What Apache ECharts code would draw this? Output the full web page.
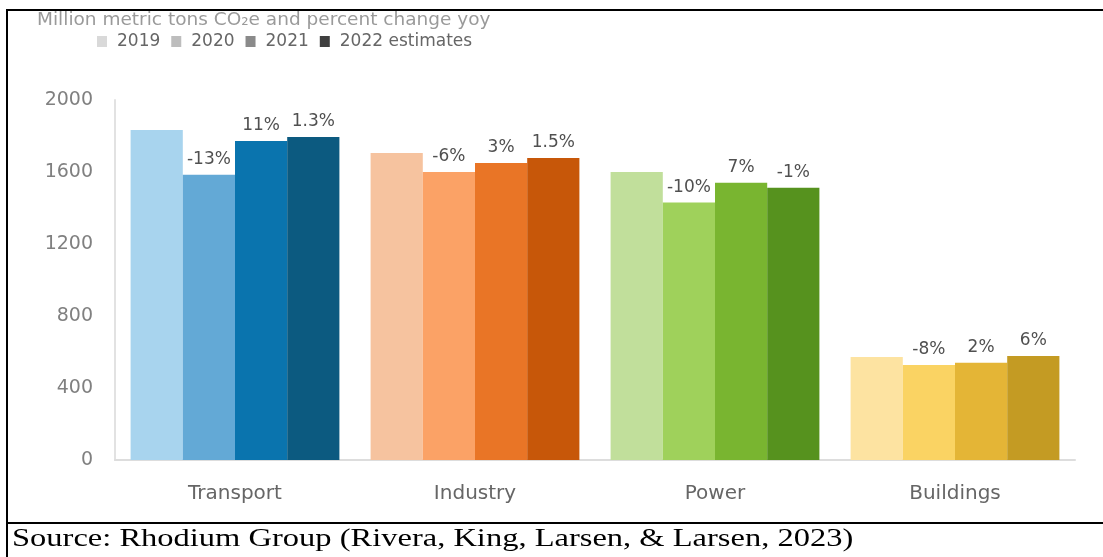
<!DOCTYPE html>
<html>
<head>
<meta charset="utf-8">
<script src="https://cdn.jsdelivr.net/npm/echarts@6/dist/echarts.min.js"></script>
<style>
  html, body { margin: 0; padding: 0; background: #fff; }
  #chart { width: 1103px; height: 557px; }
</style>
</head>
<body>
<div id="chart"></div>
<script>
// sectors and yearly emissions (million metric tons CO2e)
const categories = ['Transport', 'Industry', 'Power', 'Buildings']
const years = ['2019', '2020', '2021', '2022 estimates']
const v2019 = [1833, 1705, 1600, 572]
const v2020 = [1585, 1600, 1430, 528]
const v2021 = [1772, 1650, 1540, 540]
const v2022 = [1794, 1678, 1512, 578]
// yoy change labels (2019 has none)
const pct2020 = ['-13%', '-6%', '-10%', '-8%']
const pct2021 = ['11%', '3%', '7%', '2%']
const pct2022 = ['1.3%', '1.5%', '-1%', '6%']
const yTicks = [0, 400, 800, 1200, 1600, 2000]

// colours: one palette per sector, shade per year
const sectorColors = [
  ['#a8d4ee', '#63a9d6', '#0a74ae', '#0c5a80'],
  ['#f6c39f', '#fba266', '#e97526', '#c75709'],
  ['#c1df9b', '#9fd15b', '#79b530', '#56921e'],
  ['#fde3a1', '#fad363', '#e4b536', '#c49b23']
]
const legendGreys = ['#d9d9d9', '#bdbdbd', '#8a8a8a', '#3f3f3f']

const FONT = '"DejaVu Sans", "Noto Sans", sans-serif'

function makeSeries(idx, values, labels) {
  return {
    name: years[idx],
    type: 'bar',
    barGap: 0,
    barCategoryGap: '13%',
    itemStyle: { color: legendGreys[idx] },
    data: values.map((v, i) => ({ value: v, itemStyle: { color: sectorColors[i][idx] } })),
    label: {
      show: !!labels,
      position: 'top',
      distance: 7,
      color: '#505050',
      fontSize: 17,
      fontFamily: FONT,
      formatter: p => labels ? labels[p.dataIndex] : ''
    }
  }
}

const chart = echarts.init(document.getElementById('chart'))
chart.setOption({
  animation: false,
  textStyle: { fontFamily: FONT },
  grid: { left: 115, right: 28, top: 100, bottom: 97 },
  legend: {
    left: 92,
    top: 28,
    itemWidth: 10,
    itemHeight: 11,
    itemGap: 11,
    icon: 'rect',
    textStyle: { color: '#666', fontSize: 17, fontFamily: FONT, padding: [0, 0, 0, 5] },
    data: years
  },
  xAxis: {
    type: 'category',
    data: categories,
    axisLine: { lineStyle: { color: '#ddd', width: 2 } },
    axisTick: { show: false },
    axisLabel: { color: '#666', fontSize: 20, margin: 24 }
  },
  yAxis: {
    type: 'value',
    min: yTicks[0],
    max: yTicks[yTicks.length - 1],
    interval: 400,
    splitLine: { show: false },
    axisLine: { show: true, lineStyle: { color: '#e2e2e2', width: 2 } },
    axisLabel: { color: '#808080', fontSize: 19, margin: 22, formatter: v => String(v) }
  },
  series: [
    makeSeries(0, v2019, null),
    makeSeries(1, v2020, pct2020),
    makeSeries(2, v2021, pct2021),
    makeSeries(3, v2022, pct2022)
  ],
  graphic: [
    {
      type: 'text',
      x: 37,
      y: 11,
      style: { text: 'Million metric tons CO\u2082e and percent change yoy', fill: '#9a9a9a', font: '18.5px ' + FONT }
    },
    { type: 'line', shape: { x1: 7, y1: 10, x2: 1103, y2: 10 }, style: { stroke: '#000', lineWidth: 2 } },
    { type: 'line', shape: { x1: 7, y1: 9, x2: 7, y2: 557 }, style: { stroke: '#000', lineWidth: 2 } },
    { type: 'line', shape: { x1: 7, y1: 523, x2: 1103, y2: 523 }, style: { stroke: '#000', lineWidth: 2 } },
    {
      type: 'text',
      x: 12,
      y: 527,
      scaleX: 1.3,
      style: {
        text: 'Source: Rhodium Group (Rivera, King, Larsen, & Larsen, 2023)',
        fill: '#000',
        font: '25px "Liberation Serif", "Times New Roman", serif'
      }
    }
  ]
})
</script>
</body>
</html>
